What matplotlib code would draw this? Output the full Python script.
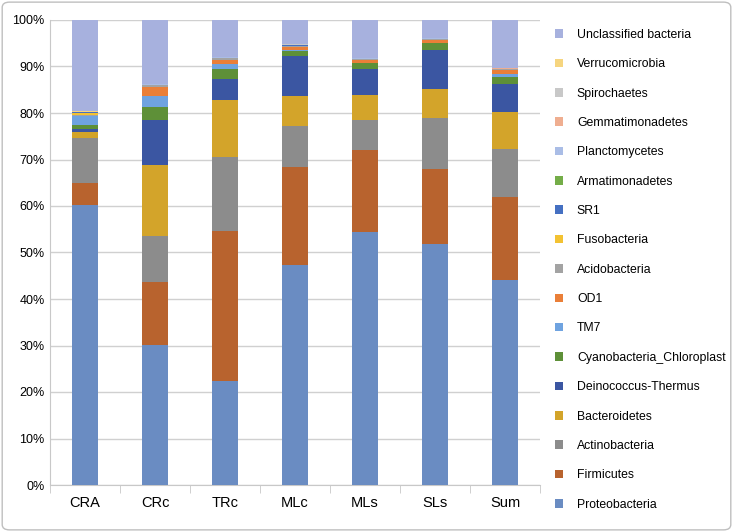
import matplotlib.pyplot as plt
import numpy as np
from matplotlib.patches import FancyBboxPatch
from matplotlib.ticker import PercentFormatter

plt.rcParams["font.family"] = ["Liberation Sans", "DejaVu Sans"]

samples = ["CRA", "CRc", "TRc", "MLc", "MLs", "SLs", "Sum"]

phyla = ["Proteobacteria", "Firmicutes", "Actinobacteria", "Bacteroidetes",
         "Deinococcus-Thermus", "Cyanobacteria_Chloroplast", "TM7", "OD1",
         "Acidobacteria", "Fusobacteria", "SR1", "Armatimonadetes",
         "Planctomycetes", "Gemmatimonadetes", "Spirochaetes",
         "Verrucomicrobia", "Unclassified bacteria"]

# relative abundance (%) per phylum, one value per sample
proteobacteria = [60.3, 30.1, 22.4, 47.5, 54.5, 51.8, 44.1]
firmicutes = [4.7, 13.6, 32.2, 21.1, 17.5, 16.1, 17.8]
actinobacteria = [9.7, 9.8, 15.9, 8.8, 6.5, 11.0, 10.5]
bacteroidetes = [1.3, 15.4, 12.4, 6.4, 5.4, 6.4, 7.9]
deinococcus = [0.6, 9.6, 4.5, 8.6, 5.7, 8.4, 5.9]
cyanobacteria = [0.9, 2.9, 2.0, 1.2, 1.2, 1.3, 1.6]
tm7 = [1.9, 2.3, 1.1, 0.2, 0.1, 0.2, 0.7]
od1 = [0.1, 2.0, 0.9, 0.7, 0.5, 0.5, 0.7]
acidobacteria = [0.1, 0.3, 0.4, 0.2, 0.2, 0.2, 0.2]
fusobacteria = [0.5, 0.05, 0.05, 0.05, 0.05, 0.05, 0.05]
sr1 = [0.05, 0.05, 0.05, 0.05, 0.05, 0.05, 0.05]
armatimonadetes = [0.05, 0.05, 0.05, 0.05, 0.05, 0.05, 0.05]
planctomycetes = [0.05, 0.05, 0.05, 0.05, 0.05, 0.05, 0.05]
gemmatimonadetes = [0.05, 0.05, 0.05, 0.05, 0.05, 0.05, 0.05]
spirochaetes = [0.05, 0.05, 0.05, 0.05, 0.05, 0.05, 0.05]
verrucomicrobia = [0.1, 0.05, 0.05, 0.05, 0.05, 0.05, 0.05]
unclassified = [19.6, 13.7, 7.9, 5.2, 8.1, 3.8, 10.3]

colors = ["#6a8cc2", "#b8632e", "#8c8c8c", "#d3a42a", "#3b56a2", "#5e9038",
          "#6fa3e0", "#ea7f38", "#a3a3a3", "#f3c232", "#4570c2", "#74ad48",
          "#aabde6", "#efae90", "#c8c8c8", "#f6d57f", "#a7b1de"]

data = np.array([proteobacteria, firmicutes, actinobacteria, bacteroidetes,
                 deinococcus, cyanobacteria, tm7, od1, acidobacteria,
                 fusobacteria, sr1, armatimonadetes, planctomycetes,
                 gemmatimonadetes, spirochaetes, verrucomicrobia, unclassified])
data = data / data.sum(axis=0) * 100

fig = plt.figure(figsize=(7.33, 5.32), dpi=100)
ax = fig.add_axes([50 / 733, 47 / 532, 490 / 733, 465 / 532])

x = np.arange(len(samples))
bottom = np.zeros(len(samples))
handles = []
for i, name in enumerate(phyla):
    b = ax.bar(x, data[i], 0.37, bottom=bottom, color=colors[i], label=name,
               zorder=3)
    handles.append(b)
    bottom += data[i]

ax.set_xlim(-0.5, len(samples) - 0.5)
ax.set_ylim(0, 100)
ax.yaxis.set_major_formatter(PercentFormatter(decimals=0))
ax.set_yticks(np.arange(0, 101, 10))
ax.grid(axis="y", color="#d0d0d0", linewidth=1, zorder=0)
for s in ["top", "right"]:
    ax.spines[s].set_visible(False)
ax.spines["left"].set_color("#c8c8c8")
ax.spines["bottom"].set_color("#c8c8c8")
ax.tick_params(axis="y", length=0, labelsize=9, pad=4)
ax.set_xticks(x)
ax.set_xticklabels(samples, fontsize=10.5)
ax.tick_params(axis="x", length=0, pad=8)
ax.set_xticks(np.arange(-0.5, len(samples)), minor=True)
ax.tick_params(axis="x", which="minor", length=6, color="#c8c8c8")

fig.legend(handles[::-1], phyla[::-1], loc="upper left",
           bbox_to_anchor=(550 / 733, 1 - 24 / 532), frameon=False,
           fontsize=8.8, labelspacing=1.42, handlelength=0.7, handleheight=0.7,
           handletextpad=1.1, borderaxespad=0)

fig.patches.append(FancyBboxPatch((0.003, 0.004), 0.994, 0.992,
                                  boxstyle="round,pad=0,rounding_size=0.01",
                                  transform=fig.transFigure, fill=False,
                                  edgecolor="#bfbfbf", linewidth=1))

fig.savefig("out.png", dpi=100)
